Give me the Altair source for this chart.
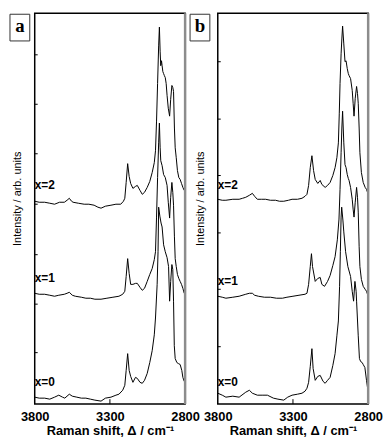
import altair as alt
import pandas as pd

# ---------- data (wavenumber cm-1, intensity arb. units) ----------
A_X2 = [(3800,205),(3770,204),(3734,204),(3700,203),(3668,202),(3635,204),(3603,204),(3585,206),
        (3570,208),(3555,205),(3545,204),(3510,203),(3471,202),(3440,202),(3405,201),(3380,199),
        (3359,198),(3330,200),(3293,201),(3260,202),(3228,202),(3210,205),(3201,208),(3192,224),
        (3182,243),(3172,230),(3162,223),(3147,218),(3130,220),(3118,221),(3100,216),(3085,212),
        (3070,214),(3052,219),(3035,225),(3019,234),(3005,244),(2997,256),(2990,286),(2983,324),
        (2976,362),(2971,381),(2966,356),(2962,342),(2957,347),(2953,342),(2948,336),(2943,334),
        (2938,332),(2932,330),(2926,324),(2920,312),(2912,299),(2903,291),(2896,308),(2888,322),
        (2882,320),(2877,316),(2871,279),(2866,259),(2859,249),(2851,236),(2842,229),(2833,227),
        (2824,223),(2815,219),(2806,216)]
A_X1 = [(3800,112),(3770,111),(3734,111),(3700,110),(3668,109),(3640,110),(3603,111),(3585,112),
        (3570,113),(3550,110),(3530,109),(3490,108),(3460,107),(3430,107),(3400,106),(3359,106),
        (3320,107),(3280,108),(3240,109),(3215,111),(3201,114),(3192,129),(3182,147),(3172,132),
        (3162,121),(3147,121),(3130,122),(3118,122),(3100,118),(3085,115),(3070,117),(3052,124),
        (3035,131),(3019,137),(3005,146),(2997,154),(2990,189),(2983,229),(2976,264),(2971,284),
        (2966,259),(2962,246),(2953,241),(2943,232),(2932,229),(2920,221),(2912,204),(2903,188),
        (2896,209),(2888,224),(2882,214),(2877,201),(2871,169),(2866,147),(2859,139),(2851,131),
        (2842,127),(2833,124),(2824,121),(2815,117),(2806,112)]
A_X0 = [(3800,7),(3770,6),(3734,6),(3700,5),(3668,7),(3640,9),(3615,7),(3600,6),(3570,10),
        (3550,8),(3520,7),(3490,6),(3460,6),(3430,5),(3400,4),(3359,3),(3330,6),(3293,7),
        (3260,9),(3240,10),(3215,14),(3201,19),(3192,34),(3182,51),(3172,34),(3162,28),(3147,22),
        (3130,27),(3118,26),(3100,22),(3085,21),(3070,24),(3052,31),(3035,42),(3019,54),(3005,70),
        (2997,87),(2986,121),(2980,154),(2976,199),(2968,190),(2960,183),(2953,179),(2943,161),
        (2932,154),(2920,148),(2910,139),(2903,104),(2896,124),(2888,141),(2882,136),(2877,104),
        (2872,59),(2866,46),(2855,42),(2845,41),(2833,40),(2822,34),(2815,27),(2806,23)]

B_X2 = [(3800,207),(3770,206),(3746,206),(3700,207),(3658,207),(3635,208),(3614,209),(3590,211),
        (3570,213),(3555,210),(3537,207),(3510,207),(3482,207),(3450,206),(3416,206),(3390,205),
        (3361,205),(3330,206),(3306,207),(3270,207),(3240,208),(3220,210),(3207,212),(3196,221),
        (3185,239),(3174,251),(3163,236),(3152,227),(3135,223),(3119,226),(3108,222),(3086,219),
        (3070,221),(3053,224),(3035,231),(3020,239),(3008,249),(2998,264),(2992,294),(2987,324),
        (2980,354),(2975,369),(2970,382),(2962,364),(2954,346),(2947,347),(2939,339),(2932,334),
        (2927,332),(2917,329),(2906,317),(2900,304),(2894,291),(2886,309),(2877,321),(2871,314),
        (2866,304),(2860,279),(2855,254),(2845,234),(2833,224),(2820,219),(2811,217),(2800,212)]
B_X1 = [(3800,109),(3770,108),(3746,107),(3700,108),(3658,109),(3614,111),(3590,112),(3570,112),
        (3555,110),(3530,109),(3490,108),(3450,108),(3410,107),(3370,107),(3340,108),(3300,109),
        (3260,110),(3220,111),(3207,112),(3196,121),(3185,139),(3177,152),(3170,139),(3152,124),
        (3135,127),(3119,128),(3108,121),(3090,119),(3070,124),(3053,130),(3035,140),(3020,149),
        (3005,166),(2994,187),(2987,217),(2980,254),(2975,279),(2970,296),(2962,264),(2954,242),
        (2947,239),(2939,232),(2932,228),(2927,226),(2917,219),(2906,207),(2900,197),(2894,189),
        (2886,204),(2877,219),(2871,209),(2866,194),(2860,159),(2855,139),(2845,126),(2833,119),
        (2820,116),(2811,114),(2800,109)]
B_X0 = [(3800,11),(3770,9),(3746,7),(3700,8),(3658,7),(3614,12),(3590,14),(3570,11),(3537,9),
        (3500,9),(3470,9),(3430,6),(3400,5),(3361,4),(3335,7),(3306,9),(3270,10),(3240,11),
        (3220,13),(3207,16),(3196,22),(3185,38),(3174,56),(3166,36),(3152,24),(3135,28),(3119,29),
        (3100,23),(3086,21),(3070,24),(3053,27),(3035,39),(3020,51),(3008,69),(2998,84),(2990,119),
        (2985,154),(2980,189),(2976,199),(2968,186),(2962,174),(2950,154),(2935,139),(2917,129),
        (2906,114),(2897,104),(2888,124),(2880,114),(2877,104),(2866,69),(2858,46),(2850,43),
        (2840,42),(2833,40),(2822,37),(2811,24),(2800,12)]

SERIES = ["x=2", "x=1", "x=0"]
A_LABEL_Y = [221, 127, 22]
B_LABEL_Y = [221, 124, 22]
A_YTICKS = [52, 101, 151, 202, 253, 303, 353]
B_YTICKS = [58, 116, 173, 231, 288, 346]
X_TICKS = [3800, 3300, 2800]
X_DOMAIN = [3800, 2800]
Y_DOMAIN = [0, 395]

W, H = 152, 395
FONT = "Liberation Sans"

X_AXIS = alt.Axis(
    values=X_TICKS, format="d", labelFont=FONT, labelFontWeight="bold",
    labelFontSize=13, labelColor="black", labelPadding=7, labelFlush=False,
    labelOverlap=False, ticks=False, domain=False, grid=False,
    title="Raman shift, Δ  / cm⁻¹", titleFont=FONT, titleFontSize=13,
    titleFontWeight="bold", titleColor="black", titlePadding=1)
Y_AXIS = alt.Axis(
    labels=False, ticks=False, domain=False, grid=False,
    title="Intensity / arb. units", titleFont=FONT, titleFontSize=11,
    titleFontWeight="normal", titleColor="black", titleX=-12, titleY=187,
    titleAngle=270, titleBaseline="bottom", titleAlign="center")


def xenc():
    return alt.X("wn:Q", scale=alt.Scale(domain=X_DOMAIN), axis=X_AXIS, title="Raman shift, Δ  / cm⁻¹")


def yenc():
    return alt.Y("val:Q", scale=alt.Scale(domain=Y_DOMAIN), axis=Y_AXIS, title="Intensity / arb. units")


def panel(curves, label_y, yticks, letter, box_x0, box_x1):
    rows = []
    for name, pts in zip(SERIES, curves):
        for wn, v in pts:
            rows.append({"wn": wn, "val": v, "series": name})
    df = pd.DataFrame(rows)

    lines = alt.Chart(df).mark_line(color="black", strokeWidth=1, clip=True).encode(
        x=xenc(), y=yenc(), detail="series:N")

    ytick = alt.Chart(pd.DataFrame({"val": yticks})).mark_rule(color="black", strokeWidth=1).encode(
        y=yenc(), x=alt.value(0), x2=alt.value(3))
    xtick = alt.Chart(pd.DataFrame({"wn": X_TICKS[1:2]})).mark_rule(color="black", strokeWidth=1).encode(
        x=xenc(), y=alt.value(H), y2=alt.value(H - 5))
    right = alt.Chart(pd.DataFrame({"wn": X_TICKS[2:]})).mark_rule(color="#8c8c8c", strokeWidth=2.5).encode(
        x=xenc(), y=alt.value(0), y2=alt.value(H))

    ldf = pd.DataFrame({"wn": [X_DOMAIN[0]] * 3, "val": label_y, "txt": SERIES})
    labs = alt.Chart(ldf).mark_text(align="left", baseline="middle", font=FONT,
                                    fontWeight="bold", fontSize=12, color="black").encode(
        x=xenc(), y=yenc(), text="txt:N")

    bdf = pd.DataFrame({"letter": [letter]})
    box = alt.Chart(bdf).mark_rect(fill="white", stroke="#333333", strokeWidth=1).encode(
        x=alt.value(box_x0), x2=alt.value(box_x1), y=alt.value(1), y2=alt.value(28))
    let = alt.Chart(bdf).mark_text(font="Liberation Serif", fontWeight="bold", fontSize=19,
                                   align="center", baseline="alphabetic", color="black").encode(
        x=alt.value((box_x0 + box_x1) / 2), y=alt.value(19), text="letter:N")

    return alt.layer(lines, ytick, xtick, right, labs, box, let).properties(width=W, height=H)


pa = panel([A_X2, A_X1, A_X0], A_LABEL_Y, A_YTICKS, "a", -25, -5)
pb = panel([B_X2, B_X1, B_X0], B_LABEL_Y, B_YTICKS, "b", -28, -8)

chart = alt.hconcat(pa, pb, spacing=33, bounds="flush").properties(
    padding={"left": 0, "top": 1, "right": 0, "bottom": 0},
    background="white",
).configure_view(stroke="black", strokeWidth=1.5)

chart.save("out.html", embed_options={"renderer": "svg", "actions": False})
